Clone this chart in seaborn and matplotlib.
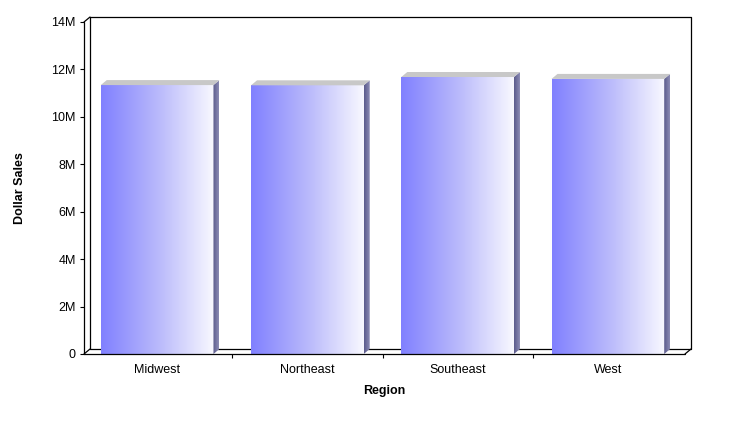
import numpy as np
import pandas as pd
import matplotlib
matplotlib.use("Agg")
import matplotlib.pyplot as plt
import matplotlib.transforms as mtransforms
from matplotlib.patches import Polygon
from matplotlib.lines import Line2D
from matplotlib.colors import LinearSegmentedColormap
import seaborn as sns

regions = ["Midwest", "Northeast", "Southeast", "West"]
sales = [11.34e6, 11.33e6, 11.68e6, 11.60e6]
y_ticks = [0, 2e6, 4e6, 6e6, 8e6, 10e6, 12e6, 14e6]
y_tick_labels = ["0", "2M", "4M", "6M", "8M", "10M", "12M", "14M"]

sns.set_theme(style="white")
plt.rcParams["font.family"] = ["Liberation Sans", "DejaVu Sans"]

W, H = 756, 428
fig = plt.figure(figsize=(W / 100, H / 100), dpi=100)
fig.patch.set_facecolor("white")
ax_l, ax_r, ax_t, ax_b = 84, 685, 22, 354
ax = fig.add_axes([ax_l / W, (H - ax_b) / H, (ax_r - ax_l) / W, (ax_b - ax_t) / H])
ax.set_facecolor("none")

df = pd.DataFrame({"Region": regions, "Sales": sales})
sns.barplot(data=df, x="Region", y="Sales", ax=ax, width=0.75, color="#8080ff",
            saturation=1, zorder=3)

XL = (-0.4867, 3.5133)
ax.set_xlim(*XL)
ax.set_ylim(0, 14e6)
ax.set_yticks(y_ticks)
ax.set_yticklabels(y_tick_labels)
for s in ax.spines.values():
    s.set_visible(False)

ax.tick_params(axis="y", which="major", left=True, length=3, width=0.8, color="black",
               pad=3, labelsize=9, labelcolor="black")
ax.tick_params(axis="x", which="major", bottom=False, length=0, pad=7, labelsize=9,
               labelcolor="black")
ax.set_xticks([0.5, 1.5, 2.5], minor=True)
ax.tick_params(axis="x", which="minor", bottom=True, length=3, width=0.8, color="black")
ax.set_xlabel("Region", fontsize=9, fontweight="bold", labelpad=7, color="black")
ax.set_ylabel("Dollar Sales", fontsize=9, fontweight="bold", labelpad=18, color="black")

# depth offsets (pixels -> data)
dxp, dyp = 6, 5
xr = XL[1] - XL[0]
yr = 14e6
dx = xr * dxp / (ax_r - ax_l)
dy = yr * dyp / (ax_b - ax_t)

# frame
off = ax.transAxes + mtransforms.ScaledTranslation(dxp / 100, dyp / 100, fig.dpi_scale_trans)
lw = 0.9
ax.add_line(Line2D([0, 1, 1, 0, 0], [0, 0, 1, 1, 0], transform=off, color="black", lw=lw,
                   clip_on=False, zorder=1))
ax.add_line(Line2D([0, 0], [0, 1], transform=ax.transAxes, color="black", lw=lw, clip_on=False, zorder=6))
ax.add_line(Line2D([0, 1], [0, 0], transform=ax.transAxes, color="black", lw=lw, clip_on=False, zorder=6))
for (x0, y0) in [(0, 0), (1, 0), (0, 1)]:
    p0 = ax.transAxes.transform((x0, y0))
    ax.add_line(Line2D([p0[0], p0[0] + dxp], [p0[1], p0[1] + dyp], transform=None,
                       color="black", lw=lw, clip_on=False, zorder=6))

front_cmap = LinearSegmentedColormap.from_list("f", ["#8080ff", "#b8b8fb", "#f8f8ff"])
side_cmap = LinearSegmentedColormap.from_list("s", ["#5a5a8c", "#8c8cb4"])
grad = np.linspace(0, 1, 256).reshape(1, -1)

for patch in list(ax.patches):
    x0 = patch.get_x()
    w = patch.get_width()
    h = patch.get_height()
    patch.set_facecolor("none")
    patch.set_edgecolor("none")
    im = ax.imshow(grad, cmap=front_cmap, aspect="auto", extent=[x0, x0 + w, 0, h],
                   zorder=3, interpolation="bilinear")
    im.set_clip_path(patch)
    # side face
    side = Polygon([(x0 + w, 0), (x0 + w + dx, dy), (x0 + w + dx, h + dy), (x0 + w, h)],
                   closed=True, facecolor="none", edgecolor="none")
    ax.add_patch(side)
    ims = ax.imshow(grad, cmap=side_cmap, aspect="auto",
                    extent=[x0 + w, x0 + w + dx, 0, h + dy], zorder=3, interpolation="bilinear")
    ims.set_clip_path(side)
    # top face
    top = Polygon([(x0, h), (x0 + dx, h + dy), (x0 + w + dx, h + dy), (x0 + w, h)],
                  closed=True, facecolor="#c8c8c8", edgecolor="none", zorder=4)
    ax.add_patch(top)

ax.set_xlim(*XL)
ax.set_ylim(0, 14e6)

fig.savefig("out.png", dpi=100, facecolor="white")
